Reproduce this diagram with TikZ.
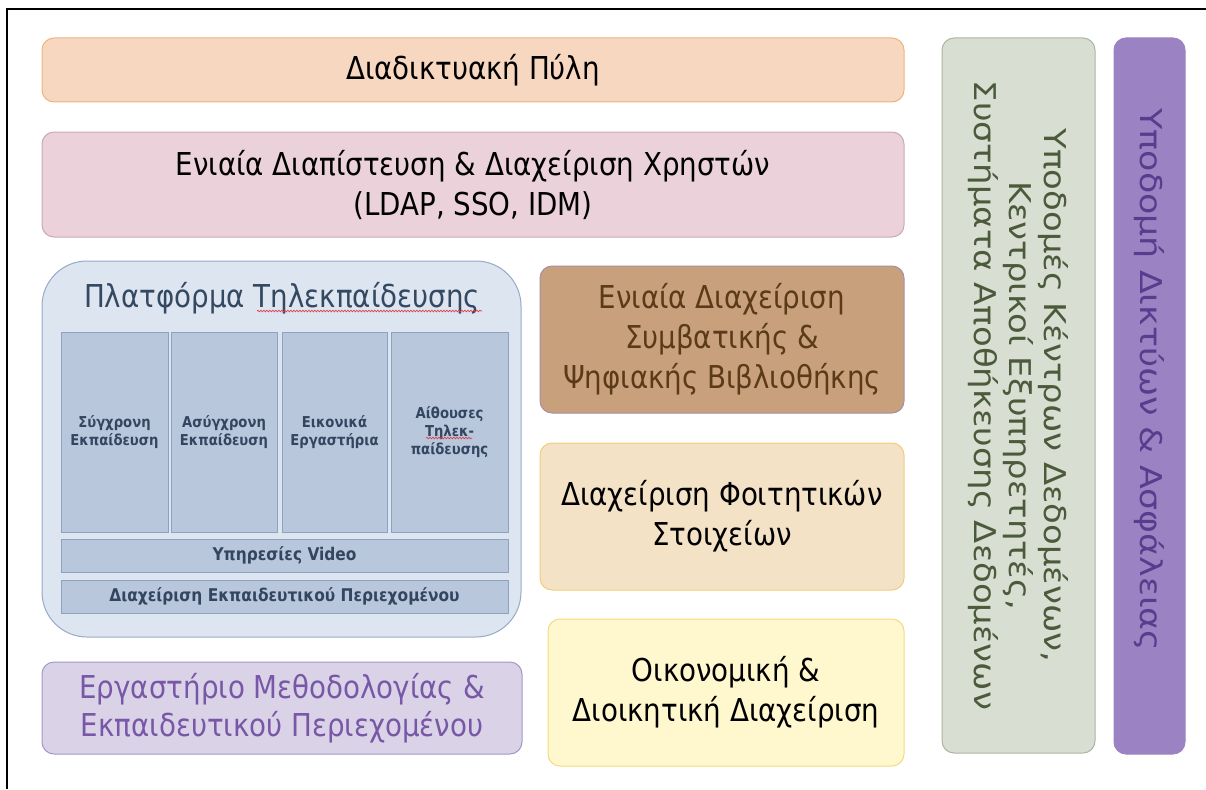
\documentclass[tikz,border=0pt]{standalone}
\usepackage{fontspec}
\setmainfont{DejaVu Sans}[FakeStretch=0.88]
\newfontfamily\rotfont{DejaVu Sans}[FakeStretch=1.13]
\newfontfamily\rotfontb{DejaVu Sans}[FakeStretch=1.16]
\usetikzlibrary{decorations.pathmorphing}
\definecolor{peachF}{HTML}{F8D7C0}
\definecolor{peachD}{HTML}{EDB57E}
\definecolor{pinkF}{HTML}{EAD1DA}
\definecolor{pinkD}{HTML}{C9A9B6}
\definecolor{platF}{HTML}{DCE5F0}
\definecolor{platD}{HTML}{97AAC8}
\definecolor{platT}{HTML}{344862}
\definecolor{innF}{HTML}{B8C7DC}
\definecolor{innD}{HTML}{8EA2BE}
\definecolor{innT}{HTML}{34465F}
\definecolor{lavF}{HTML}{DAD3E8}
\definecolor{lavD}{HTML}{A497C6}
\definecolor{lavT}{HTML}{7858A6}
\definecolor{brnF}{HTML}{C9A07C}
\definecolor{brnD}{HTML}{A58FA6}
\definecolor{brnT}{HTML}{5A3A18}
\definecolor{tanF}{HTML}{F3E2C6}
\definecolor{tanD}{HTML}{F0CD7C}
\definecolor{yelF}{HTML}{FFF8CE}
\definecolor{yelD}{HTML}{F3DA7E}
\definecolor{grnF}{HTML}{D8DED2}
\definecolor{grnD}{HTML}{AAB4A2}
\definecolor{grnT}{HTML}{4C5A3C}
\definecolor{purF}{HTML}{9B82C2}
\definecolor{purT}{HTML}{583D8E}
\definecolor{squig}{HTML}{E0404A}
\tikzset{
  box/.style={draw, line width=1pt, rounded corners=12pt, align=center, inner sep=0pt, font=\fontsize{31.5}{40}\selectfont},
  inbox/.style={draw=innD, fill=innF, line width=0.8pt, align=center, inner sep=0pt, text=innT, font=\bfseries\fontsize{17.5}{18.5}\selectfont},
  colbox/.style={inbox, minimum height=200pt, font=\bfseries\fontsize{15}{18}\selectfont},
  squiggle/.style={draw=squig, line width=0.7pt, decorate, decoration={snake, amplitude=0.8pt, segment length=3pt}}
}
\begin{document}
\begin{tikzpicture}[x=1pt,y=-1pt]
\useasboundingbox (0,0) rectangle (1206,789);
\draw[line width=1.5pt] (7,789) -- (7,9) -- (1206,9);

\node[box, draw=peachD, fill=peachF, minimum width=862pt, minimum height=64pt] (portal) at (473,70) {Διαδικτυακή Πύλη};
\node[box, draw=pinkD, fill=pinkF, minimum width=862pt, minimum height=105pt] (auth) at (473,184.5) {Ενιαία Διαπίστευση \& Διαχείριση Χρηστών\\(LDAP, SSO, IDM)};

\node[box, draw=platD, fill=platF, rounded corners=45pt, minimum width=479pt, minimum height=376pt] (plat) at (281.5,449) {};
\node[text=platT, font=\fontsize{31.5}{36}\selectfont, inner sep=0pt] (plattitle) at (282,298) {Πλατφόρμα Τηλεκπαίδευσης};

\node[colbox, minimum width=107pt] (c1) at (114.5,432) {Σύγχρονη\\Εκπαίδευση};
\node[colbox, minimum width=106pt] (c2) at (224,432) {Ασύγχρονη\\Εκπαίδευση};
\node[colbox, minimum width=105pt] (c3) at (334.5,432) {Εικονικά\\Εργαστήρια};
\node[colbox, minimum width=117pt] (c4) at (449.5,432) {Αίθουσες\\Τηλεκ-\\παίδευσης};
\node[inbox, minimum width=447pt, minimum height=33pt] (video) at (284.5,555.5) {Υπηρεσίες Video};
\node[inbox, minimum width=447pt, minimum height=33pt] (content) at (284.5,596.5) {Διαχείριση Εκπαιδευτικού Περιεχομένου};

\node[box, draw=lavD, fill=lavF, text=lavT, minimum width=480pt, minimum height=92pt, font=\fontsize{31.5}{38}\selectfont] (lab) at (282,708) {Εργαστήριο Μεθοδολογίας \&\\Εκπαιδευτικού Περιεχομένου};

\node[box, draw=brnD, fill=brnF, text=brnT, minimum width=364pt, minimum height=147pt] (lib) at (722,339.5) {Ενιαία Διαχείριση\\Συμβατικής \&\\Ψηφιακής Βιβλιοθήκης};
\node[box, draw=tanD, fill=tanF, minimum width=364pt, minimum height=147pt] (stud) at (722,516.5) {Διαχείριση Φοιτητικών\\Στοιχείων};
\node[box, draw=yelD, fill=yelF, minimum width=356pt, minimum height=147pt] (fin) at (726,692.5) {Οικονομική \&\\Διοικητική Διαχείριση};

\node[box, draw=grnD, fill=grnF, text=grnT, rotate=-90, minimum width=715pt, minimum height=153pt, font=\rotfont\fontsize{30}{35}\selectfont] (dc) at (1018.5,395.5) {Υποδομές Κέντρων Δεδομένων,\\Κεντρικοί Εξυπηρετητές,\\Συστήματα Αποθήκευσης Δεδομένων};
\node[box, draw=purF, fill=purF, rotate=-90, minimum width=716pt, minimum height=71pt] (net) at (1149.5,396) {};
\node[text=purT, rotate=-90, inner sep=0pt, font=\rotfontb\fontsize{30}{35}\selectfont] (netlabel) at (1149.5,380) {Υποδομή Δικτύων \& Ασφάλειας};

\draw[squiggle] (257,311) -- (482,311);
\draw[squiggle] (426,438) -- (472,438);
\end{tikzpicture}
\end{document}
